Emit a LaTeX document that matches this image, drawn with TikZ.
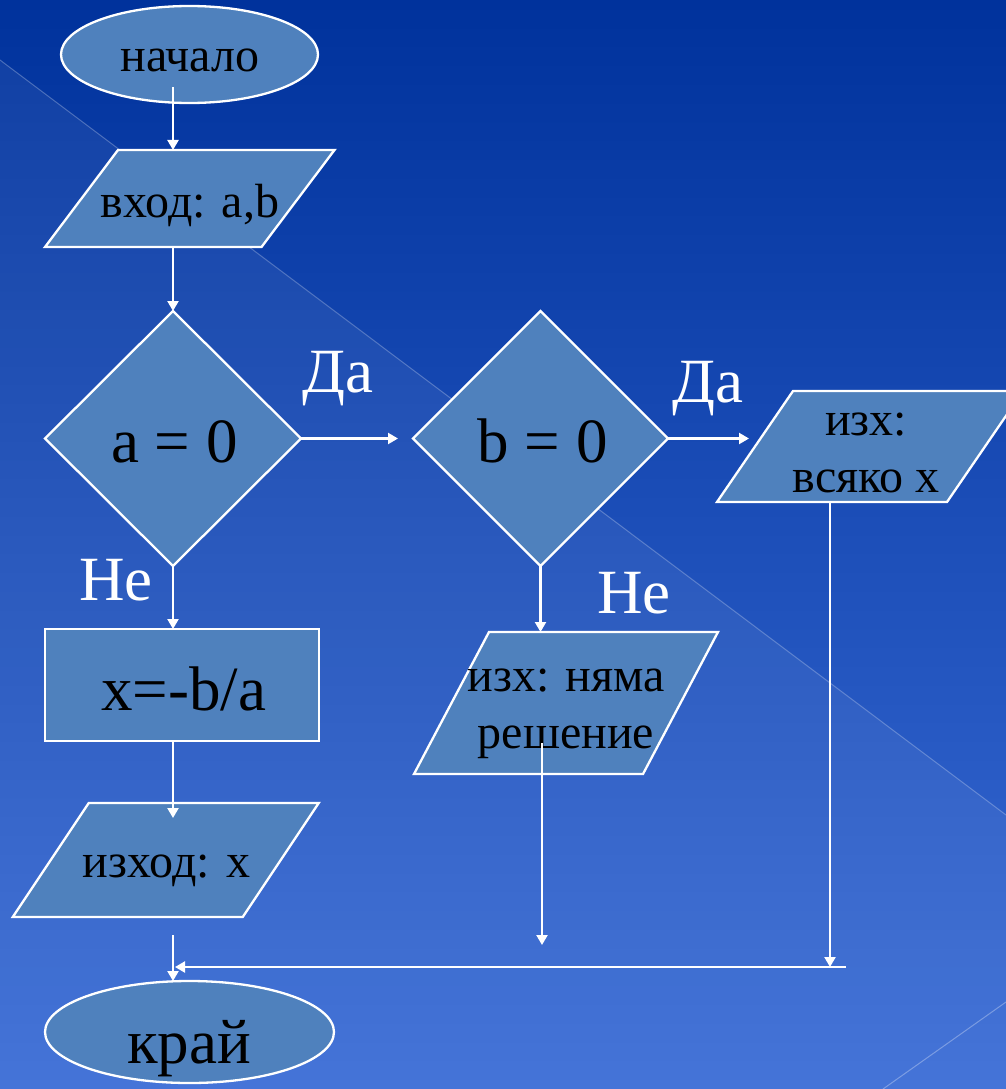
\documentclass[tikz,border=0pt]{standalone}
\usepackage{fontspec}
\setmainfont{Liberation Serif}
\usetikzlibrary{shapes.geometric,arrows.meta,calc}
\definecolor{bgtop}{HTML}{00329C}
\definecolor{bgbot}{HTML}{3A6CD6}
\definecolor{shapefill}{HTML}{4F81BD}
\newcommand\pgramdraw[2]{\draw[pgram] ([xshift=#2]#1.north west) -- ([xshift=#2]#1.north east) -- ([xshift=-#2]#1.south east) -- ([xshift=-#2]#1.south west) -- cycle;}
\begin{document}
\begin{tikzpicture}[x=1pt,y=-1pt,
  shp/.style={draw=white, line width=2.3pt, fill=shapefill, inner sep=0pt, outer sep=0pt},
  oval/.style={shp, ellipse},
  dia/.style={shp, diamond, aspect=1},
  box/.style={shp, rectangle},
  pframe/.style={rectangle, inner sep=0pt, outer sep=0pt},
  pgram/.style={draw=white, line width=2.3pt, fill=shapefill, line join=miter},
  small/.style={font=\fontsize{48}{57}\selectfont, inner sep=0pt, anchor=base, text=black, align=center},
  big/.style={font=\fontsize{63}{70}\selectfont, inner sep=0pt, anchor=base, text=black},
  lbl/.style={big, text=white},
  arr/.style={draw=white, line width=2.2pt, -{Triangle[length=10pt,width=11pt]}},
]
% background
\fill[top color=bgtop, bottom color=bgbot] (0,0) rectangle (1006,1089);
\useasboundingbox (0,0) rectangle (1006,1089);
\fill[white, opacity=0.06] (0,60) -- (1006,815) -- (1006,1089) -- (0,1089) -- cycle;
\draw[white, opacity=0.25, line width=1pt] (0,60) -- (1006,815);
\draw[white, opacity=0.3, line width=1pt] (883,1089) -- (1006,1002);

% shapes
\node[oval, minimum width=257pt, minimum height=97pt] (start) at (189.5,54.5) {};
\node[pframe, minimum width=216.5pt, minimum height=97pt] (in) at (189.75,198.5) {};
\pgramdraw{in}{36.5pt}
\node[dia, minimum width=256pt, minimum height=255pt] (da) at (173,438.5) {};
\node[dia, minimum width=255pt, minimum height=255pt] (db) at (540.5,438.5) {};
\node[pframe, minimum width=230pt, minimum height=111pt] (all) at (870,446.5) {};
\pgramdraw{all}{38pt}
\node[box, minimum width=274pt, minimum height=112pt] (calc) at (182,685) {};
\node[pframe, minimum width=229pt, minimum height=142pt] (none) at (566,703) {};
\pgramdraw{none}{37.5pt}
\node[pframe, minimum width=230pt, minimum height=114pt] (out) at (165.75,860) {};
\pgramdraw{out}{38pt}
\node[oval, minimum width=289pt, minimum height=102pt] (end) at (189.5,1032) {};

% texts
\node[small] at (190,72) {начало};
\node[small] at (190,217) {вход: a,b};
\node[big] at (174.5,462) {a = 0};
\node[big] at (542.5,462) {b = 0};
\node[small] at (866,492) {изх:\\всяко x};
\node[small] at (566,748) {изх: няма\\решение};
\node[big] at (183.5,710) {x=-b/a};
\node[small] at (166.5,877) {изход: x};
\node[big] at (189,1063) {край};
\node[lbl] at (338,392) {Да};
\node[lbl] at (708,402) {Да};
\node[lbl] at (116,600) {Не};
\node[lbl] at (634,613) {Не};

% connectors
\coordinate (mr) at (846,967);
\draw[arr] ($(start.south -| da.north)+(0,-16)$) -- (in.north -| da.north);
\draw[arr] (in.south -| da.north) -- (da.north);
\draw[arr] (da.south) -- (calc.north -| da.south);
\draw[arr] (calc.south -| da.south) -- ($(out.north -| da.south)+(0,15)$);
\draw[arr] ($(out.south -| da.south)+(0,18)$) -- (end.north -| da.south);
\draw[arr] (da.east) -- ([xshift=-15pt]db.west);
\draw[arr] (db.east) -- ([xshift=-6pt]db.east -| all.west);
\draw[arr] (db.south) -- (none.north -| db.south);
\draw[arr] ($(none.center -| db.south)+(1.5,40)$) -- ($(mr -| db.south)+(1.5,-22)$);
\draw[arr] ([xshift=-40pt]all.south) -- ([xshift=-40pt]all.south |- mr);
\draw[arr] (mr) -- ($(mr -| da.south)+(2,0)$);
\end{tikzpicture}
\end{document}
